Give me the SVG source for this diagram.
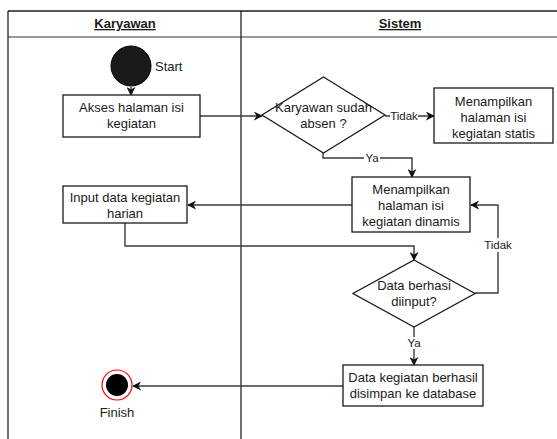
<svg xmlns="http://www.w3.org/2000/svg" width="557" height="439" viewBox="0 0 557 439">
  <style>
    text { font-family: "Liberation Sans", Arial, sans-serif; fill: #1a1a1a; }
    .lbl { font-size: 13px; text-anchor: middle; }
    .hdr { font-size: 13px; font-weight: bold; text-anchor: middle; text-decoration: underline; }
    .edge-lbl { font-size: 11.5px; text-anchor: middle; }
    .box { fill: #ffffff; stroke: #1a1a1a; stroke-width: 1.3; }
    .conn { fill: none; stroke: #3a3a3a; stroke-width: 1.4; }
    .lane { fill: none; stroke: #111; stroke-width: 1.2; }
    .lblbg { fill: #ffffff; }
  </style>
  <defs>
    <marker id="arrow" viewBox="0 0 10 10" refX="9" refY="5" markerWidth="9" markerHeight="9" markerUnits="userSpaceOnUse" orient="auto">
      <path d="M0,0 L10,5 L0,10 L3,5 z" fill="#111"/>
    </marker>
  </defs>
  <rect width="557" height="439" fill="#ffffff"/>

  <!-- swimlanes -->
  <g id="lanes">
    <line x1="8" y1="11" x2="557" y2="11" stroke="#555" stroke-width="2"/>
    <line x1="8" y1="37" x2="557" y2="37" stroke="#777" stroke-width="1.5"/>
    <line class="lane" x1="8" y1="11" x2="8" y2="439"/>
    <line class="lane" x1="241" y1="11" x2="241" y2="439"/>
    <text class="hdr" x="125" y="28">Karyawan</text>
    <text class="hdr" x="400" y="28">Sistem</text>
  </g>

  <!-- connectors -->
  <g id="connectors">
    <line class="conn" x1="131" y1="87" x2="131" y2="95" marker-end="url(#arrow)"/>
    <line class="conn" x1="200" y1="116" x2="262" y2="116" marker-end="url(#arrow)"/>
    <line class="conn" x1="385" y1="116" x2="434" y2="116" marker-end="url(#arrow)"/>
    <polyline class="conn" points="323,153 323,158 412,158 412,177" marker-end="url(#arrow)"/>
    <line class="conn" x1="352" y1="205" x2="188" y2="205" marker-end="url(#arrow)"/>
    <polyline class="conn" points="125,223 125,246 414,246 414,260" marker-end="url(#arrow)"/>
    <polyline class="conn" points="475,293 498,293 498,205 471,205" marker-end="url(#arrow)"/>
    <line class="conn" x1="414" y1="327" x2="414" y2="365" marker-end="url(#arrow)"/>
    <line class="conn" x1="343" y1="386" x2="133" y2="386" marker-end="url(#arrow)"/>

    <rect class="lblbg" x="390" y="110" width="28" height="13"/>
    <text class="edge-lbl" x="404" y="120">Tidak</text>
    <rect class="lblbg" x="364" y="152" width="16" height="12"/>
    <text class="edge-lbl" x="372" y="162">Ya</text>
    <rect class="lblbg" x="484" y="238" width="28" height="14"/>
    <text class="edge-lbl" x="498" y="249">Tidak</text>
    <rect class="lblbg" x="406" y="337" width="16" height="12"/>
    <text class="edge-lbl" x="414" y="347">Ya</text>
  </g>

  <!-- nodes -->
  <g id="start">
    <circle cx="131" cy="66" r="20" fill="#1a1a1a" stroke="#000" stroke-width="1"/>
    <text x="155" y="71" style="font-size:13px">Start</text>
  </g>

  <g id="akses-halaman">
    <rect class="box" x="63" y="95" width="137" height="42"/>
    <text class="lbl" x="131.5" y="112">Akses halaman isi</text>
    <text class="lbl" x="131.5" y="128">kegiatan</text>
  </g>

  <g id="cek-absen">
    <polygon class="box" points="323.5,77 385,115 323.5,153 262,115"/>
    <text class="lbl" x="323.5" y="112">Karyawan sudah</text>
    <text class="lbl" x="323.5" y="128">absen ?</text>
  </g>

  <g id="kegiatan-statis">
    <rect class="box" x="434" y="88" width="119" height="55"/>
    <text class="lbl" x="493.5" y="106">Menampilkan</text>
    <text class="lbl" x="493.5" y="122">halaman isi</text>
    <text class="lbl" x="493.5" y="138">kegiatan statis</text>
  </g>

  <g id="kegiatan-dinamis">
    <rect class="box" x="352" y="177" width="118" height="55"/>
    <text class="lbl" x="411" y="194">Menampilkan</text>
    <text class="lbl" x="411" y="210">halaman isi</text>
    <text class="lbl" x="411" y="226">kegiatan dinamis</text>
  </g>

  <g id="input-data">
    <rect class="box" x="63" y="186" width="124" height="37"/>
    <text class="lbl" x="125" y="202">Input data kegiatan</text>
    <text class="lbl" x="125" y="218">harian</text>
  </g>

  <g id="cek-input">
    <polygon class="box" points="414,260 475,293.5 414,327 353,293.5"/>
    <text class="lbl" x="414" y="290">Data berhasi</text>
    <text class="lbl" x="414" y="306">diinput?</text>
  </g>

  <g id="simpan-data">
    <rect class="box" x="343" y="365" width="140" height="41"/>
    <text class="lbl" x="413" y="382">Data kegiatan berhasil</text>
    <text class="lbl" x="413" y="398">disimpan ke database</text>
  </g>

  <g id="finish">
    <circle cx="117" cy="385" r="15" fill="#ffffff" stroke="#ff0000" stroke-width="1.2"/>
    <circle cx="117" cy="385" r="11" fill="#000000"/>
    <text class="lbl" x="117" y="417">Finish</text>
  </g>
</svg>
